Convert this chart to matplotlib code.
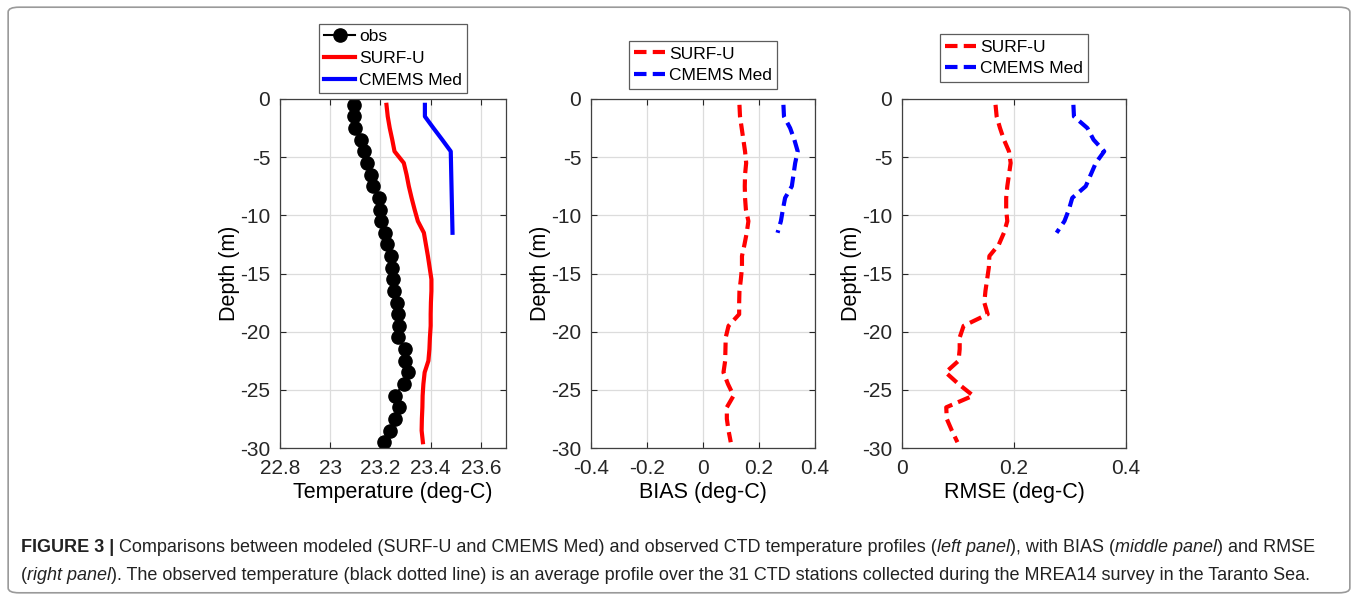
import numpy as np
import matplotlib
matplotlib.use('Agg')
import matplotlib.pyplot as plt
from matplotlib.patches import FancyBboxPatch

plt.rcParams['font.family'] = ['Liberation Sans', 'DejaVu Sans']

# depth levels (m)
depth = -np.arange(0.5, 30, 1.0)
depth_cm = -np.arange(0.5, 12, 1.0)

# temperature profiles (deg-C)
t_obs = [23.093, 23.096, 23.097, 23.124, 23.133, 23.147, 23.164, 23.169, 23.196, 23.200,
         23.204, 23.217, 23.227, 23.241, 23.247, 23.251, 23.253, 23.267, 23.269, 23.273,
         23.269, 23.297, 23.297, 23.311, 23.293, 23.256, 23.272, 23.256, 23.240, 23.216]
t_surf = [23.224, 23.229, 23.237, 23.247, 23.256, 23.293, 23.304, 23.313, 23.324, 23.336,
          23.349, 23.373, 23.381, 23.389, 23.396, 23.403, 23.403, 23.401, 23.400, 23.400,
          23.397, 23.395, 23.391, 23.376, 23.371, 23.368, 23.367, 23.365, 23.364, 23.369]
t_cmems = [23.377, 23.377, 23.411, 23.446, 23.480, 23.481, 23.482, 23.483, 23.484, 23.485,
           23.486, 23.487]

# BIAS (deg-C)
bias_surf = [0.130, 0.132, 0.138, 0.144, 0.150, 0.154, 0.150, 0.149, 0.150, 0.153,
             0.162, 0.156, 0.148, 0.139, 0.139, 0.135, 0.130, 0.129, 0.129, 0.091,
             0.081, 0.080, 0.079, 0.073, 0.089, 0.109, 0.085, 0.085, 0.091, 0.099]
bias_cmems = [0.287, 0.289, 0.311, 0.326, 0.338, 0.329, 0.323, 0.317, 0.293, 0.285,
              0.278, 0.266]

# RMSE (deg-C)
rmse_surf = [0.167, 0.169, 0.175, 0.182, 0.191, 0.194, 0.191, 0.188, 0.186, 0.186,
             0.188, 0.182, 0.173, 0.156, 0.155, 0.152, 0.149, 0.147, 0.153, 0.110,
             0.103, 0.103, 0.101, 0.078, 0.101, 0.127, 0.079, 0.080, 0.089, 0.099]
rmse_cmems = [0.306, 0.307, 0.331, 0.342, 0.361, 0.346, 0.337, 0.328, 0.304, 0.298,
              0.290, 0.276]

yticks = [0, -5, -10, -15, -20, -25, -30]
ylabels = ['0', '-5', '-10', '-15', '-20', '-25', '-30']

fig = plt.figure(figsize=(13.58, 6.0), dpi=100)

# outer frame
fig.patches.append(FancyBboxPatch((0.006, 0.012), 0.988, 0.976, boxstyle='round,pad=0,rounding_size=0.008',
                                  transform=fig.transFigure, fill=False, ec='#9a9a9a', lw=1.2))

ax1 = fig.add_axes([0.2062, 0.2533, 0.1664, 0.5817])
ax2 = fig.add_axes([0.4352, 0.2533, 0.1650, 0.5817])
ax3 = fig.add_axes([0.6642, 0.2533, 0.1650, 0.5817])

dash = (0, (3.0, 1.5))

ax1.plot(t_obs, depth, '-o', color='k', lw=1.5, ms=9.5, label='obs')
ax1.plot(t_surf, depth, '-', color='#ff0000', lw=3, label='SURF-U')
ax1.plot(t_cmems, depth_cm, '-', color='#0000ff', lw=3, label='CMEMS Med')
ax1.set_xlim(22.8, 23.7)
ax1.set_xticks([22.8, 23.0, 23.2, 23.4, 23.6])
ax1.set_xticklabels(['22.8', '23', '23.2', '23.4', '23.6'])
ax1.set_xlabel('Temperature (deg-C)')

ax2.plot(bias_surf, depth, color='#ff0000', lw=3, linestyle=dash, label='SURF-U')
ax2.plot(bias_cmems, depth_cm, color='#0000ff', lw=3, linestyle=dash, label='CMEMS Med')
ax2.set_xlim(-0.4, 0.4)
ax2.set_xticks([-0.4, -0.2, 0, 0.2, 0.4])
ax2.set_xticklabels(['-0.4', '-0.2', '0', '0.2', '0.4'])
ax2.set_xlabel('BIAS (deg-C)')

ax3.plot(rmse_surf, depth, color='#ff0000', lw=3, linestyle=dash, label='SURF-U')
ax3.plot(rmse_cmems, depth_cm, color='#0000ff', lw=3, linestyle=dash, label='CMEMS Med')
ax3.set_xlim(0, 0.4)
ax3.set_xticks([0, 0.2, 0.4])
ax3.set_xticklabels(['0', '0.2', '0.4'])
ax3.set_xlabel('RMSE (deg-C)')

leg_off = [1.017, 1.03, 1.05]
for ax, off in zip([ax1, ax2, ax3], leg_off):
    ax.set_ylim(-30, 0)
    ax.set_yticks(yticks)
    ax.set_yticklabels(ylabels)
    ax.set_ylabel('Depth (m)', fontsize=15.5, labelpad=0)
    ax.xaxis.label.set_fontsize(15.5)
    ax.xaxis.labelpad = 3
    ax.grid(True, color='#dcdcdc', lw=0.9)
    ax.set_axisbelow(True)
    ax.tick_params(direction='in', length=4, labelsize=15, colors='#262626',
                   top=True, right=True)
    ax.tick_params(axis='x', pad=8)
    ax.tick_params(axis='y', pad=7)
    for s in ax.spines.values():
        s.set_color('#404040')
        s.set_linewidth(0.9)
    leg = ax.legend(loc='lower center', bbox_to_anchor=(0.5, off), fontsize=12.5, frameon=True,
                    fancybox=False, edgecolor='#333333', borderpad=0.3, labelspacing=0.38,
                    handlelength=1.8, handletextpad=0.2, borderaxespad=0)
    leg.get_frame().set_linewidth(0.9)

# caption, written piece by piece
renderer = fig.canvas.get_renderer()
W = fig.get_figwidth() * fig.dpi

def caption_line(x, y, pieces):
    for txt, weight, style in pieces:
        t = fig.text(x, y, txt, fontsize=13, fontweight=weight, fontstyle=style,
                     color='#222222', va='center', ha='left')
        bb = t.get_window_extent(renderer)
        x = bb.x1 / W

caption_line(0.0155, 1 - 547 / 600, [
    ('FIGURE 3 | ', 'bold', 'normal'),
    ('Comparisons between modeled (SURF-U and CMEMS Med) and observed CTD temperature profiles (', 'normal', 'normal'),
    ('left panel', 'normal', 'italic'),
    ('), with BIAS (', 'normal', 'normal'),
    ('middle panel', 'normal', 'italic'),
    (') and RMSE', 'normal', 'normal'),
])
caption_line(0.0155, 1 - 575 / 600, [
    ('(', 'normal', 'normal'),
    ('right panel', 'normal', 'italic'),
    ('). The observed temperature (black dotted line) is an average profile over the 31 CTD stations '
     'collected during the MREA14 survey in the Taranto Sea.', 'normal', 'normal'),
])

fig.savefig('out.png', dpi=100)
